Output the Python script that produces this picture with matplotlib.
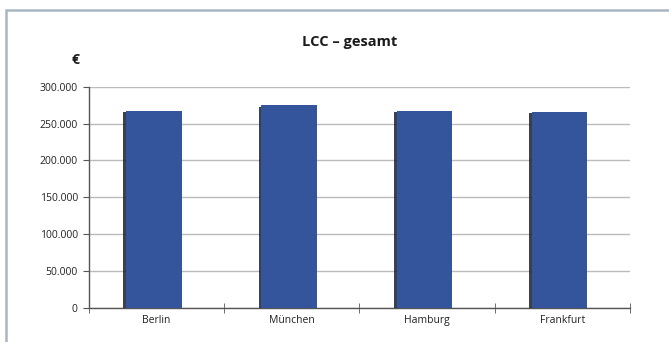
import matplotlib
matplotlib.use("Agg")
import matplotlib.pyplot as plt
import matplotlib.patheffects as pe
from matplotlib.patches import Rectangle
from matplotlib.ticker import FuncFormatter, MultipleLocator

# data
cities = ["Berlin", "München", "Hamburg", "Frankfurt"]
lcc_total = [267000, 275000, 267000, 266000]

title = "LCC – gesamt"
unit = "€"

plt.rcParams["font.family"] = ["Open Sans", "DejaVu Sans"]

fig = plt.figure(figsize=(6.69, 3.42), dpi=100)
ax = fig.add_axes([0.1330, 0.0994, 0.8087, 0.6471])

# light frame around the chart (open to the right and bottom like the scan)
fig.patches.append(
    Rectangle((6 / 669, -0.1), 1.2, 1 - 10 / 342 + 0.1, transform=fig.transFigure,
              fill=False, edgecolor="#a9b6c2", linewidth=1.8, zorder=0)
)

x = range(len(cities))
# bars sit a little left of the category centre in the original
bars = ax.bar([i - 0.02 for i in x], lcc_total, width=0.41, color="#34549c", zorder=3)
for b in bars:
    b.set_path_effects([pe.SimplePatchShadow(offset=(-2, -1), shadow_rgbFace="#1a1f30", alpha=0.85),
                        pe.Normal()])

ax.set_xlim(-0.5, len(cities) - 0.5)
ax.set_ylim(0, 300000)
ax.yaxis.set_major_locator(MultipleLocator(50000))
ax.yaxis.set_major_formatter(FuncFormatter(lambda v, p: f"{int(v):,}".replace(",", ".")))
ax.grid(axis="y", color="#bbbbbb", linewidth=1.0, zorder=0)

ax.set_xticks([i for i in x])
ax.set_xticklabels(cities, fontsize=7.5, color="#222222")
ax.set_xticks([i - 0.5 for i in range(len(cities) + 1)], minor=True)
ax.tick_params(axis="x", which="major", length=0, pad=5)
ax.tick_params(axis="x", which="minor", direction="inout", length=7, color="#555555")
ax.tick_params(axis="y", length=4, color="#555555", labelsize=7.5, labelcolor="#222222", pad=4)

for s in ["top", "right"]:
    ax.spines[s].set_visible(False)
for s in ["left", "bottom"]:
    ax.spines[s].set_color("#555555")
    ax.spines[s].set_linewidth(1.0)

fig.text(350 / 669, 1 - 42 / 342, title, ha="center", va="center", fontsize=10.5, fontweight="bold",
         color="#1a1a1a")
fig.text(75 / 669, 1 - 60 / 342, unit, ha="center", va="center", fontsize=10, fontweight="bold",
         color="#1a1a1a")

fig.savefig("out.png", dpi=100)
